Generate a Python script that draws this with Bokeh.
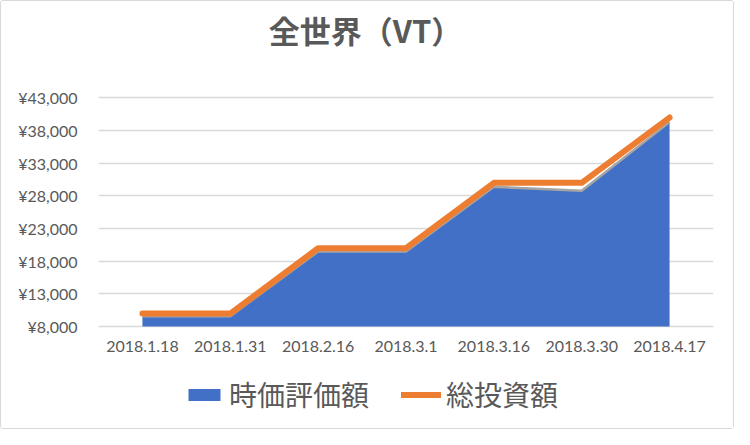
from bokeh.plotting import figure
from bokeh.models import (ColumnDataSource, FactorRange, Range1d, FixedTicker,
                          Legend, LegendItem, Label)
from bokeh.embed import file_html
from bokeh.resources import INLINE

# 全世界（VT） 積立の記録
dates = ["2018.1.18", "2018.1.31", "2018.2.16", "2018.3.1",
         "2018.3.16", "2018.3.30", "2018.4.17"]
market_value = [9600, 9600, 19500, 19500, 29400, 28800, 39300]   # 時価評価額
total_invest = [10000, 10000, 20000, 20000, 30000, 30000, 40000]  # 総投資額
y_ticks = [8000, 13000, 18000, 23000, 28000, 33000, 38000, 43000]

TEXT = "#595959"
JP_FONT = "Noto Sans CJK JP"
NUM_FONT = "Lato"

src = ColumnDataSource(dict(date=dates, value=market_value, invest=total_invest))

# the frame covers the full height, so title and legend can sit inside it;
# the y range is stretched so that 8,000..43,000 lands on the chart area
p = figure(
    width=734, height=429,
    x_range=FactorRange(*dates, range_padding=0),
    y_range=Range1d(-7900, 57760),
    toolbar_location=None,
    output_backend="svg",
    min_border_left=97, min_border_right=22,
    min_border_top=0, min_border_bottom=0,
)
p.x_range.range_padding = 0
p.outline_line_color = None
p.background_fill_color = "white"
p.border_fill_color = "white"
p.styles = {"border": "1px solid #d9d9d9", "border-radius": "3px"}

area = p.varea(x="date", y1=y_ticks[0], y2="value", source=src,
               fill_color="#4270c6")
# soft grey edge on top of the area, like the shadow in the original
p.line(x="date", y="value", source=src, line_color="#a5a5a5", line_width=2.5)
line = p.line(x="date", y="invest", source=src, line_color="#ed7d31",
              line_width=6, line_cap="round", line_join="round")

# axes
p.yaxis.ticker = FixedTicker(ticks=y_ticks)
p.yaxis.major_label_overrides = {t: f"¥{t:,}" for t in y_ticks}
p.xaxis.fixed_location = y_ticks[0]
for ax in (p.xaxis[0], p.yaxis[0]):
    ax.axis_line_color = None
    ax.major_tick_line_color = None
    ax.minor_tick_line_color = None
    ax.major_tick_out = 0
    ax.major_label_text_color = TEXT
    ax.major_label_text_font = NUM_FONT
    ax.major_label_text_font_size = "16px"
p.yaxis.major_label_standoff = 21
p.xaxis.major_label_standoff = 14

p.xgrid.grid_line_color = None
p.ygrid.grid_line_color = "#d9d9d9"
p.ygrid.grid_line_width = 1.3

# title
p.add_layout(Label(x=267, y=401, x_units="screen", y_units="screen",
                   text="全世界（VT）", text_align="center", text_baseline="middle",
                   text_font=JP_FONT, text_font_style="bold",
                   text_font_size="31px", text_color=TEXT))

legend = Legend(items=[LegendItem(label="時価評価額", renderers=[area]),
                       LegendItem(label="総投資額", renderers=[line])],
                location=(86, 16), orientation="horizontal",
                padding=0, margin=0, spacing=32,
                glyph_width=40, glyph_height=15, label_standoff=5,
                label_text_font=JP_FONT, label_text_font_size="28px",
                label_text_color=TEXT,
                background_fill_alpha=0, border_line_color=None)
p.add_layout(legend, "center")

open("out.html", "w").write(file_html(p, INLINE))
